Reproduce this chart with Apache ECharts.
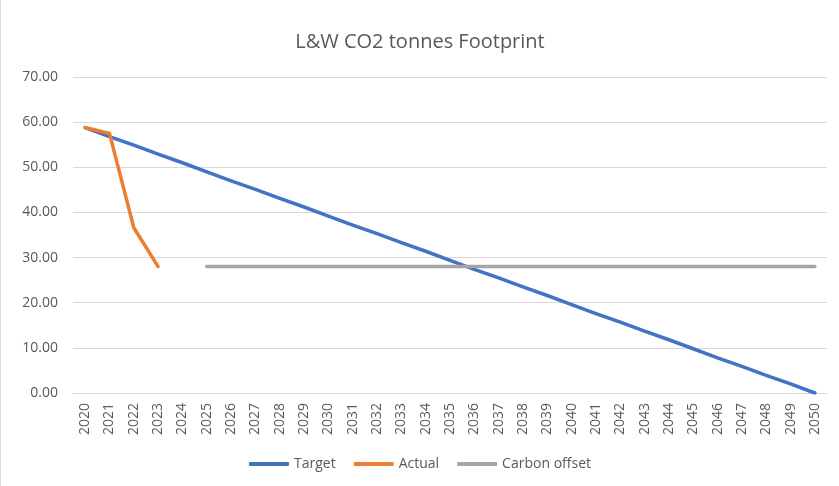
<!DOCTYPE html>
<html>
<head>
<meta charset="utf-8">
<script src="https://cdn.jsdelivr.net/npm/echarts@6/dist/echarts.min.js"></script>
<style>
  html, body { margin: 0; padding: 0; background: #fff; }
  #chart { width: 839px; height: 486px; box-sizing: border-box; border-left: 1px solid #d9d9d9; }
</style>
</head>
<body>
<div id="chart"></div>
<script>
// years on the category axis
const years = [];
for (let y = 2020; y <= 2050; y++) years.push(String(y));

// values (tonnes CO2)
const target = [58.8, 56.8, 54.9, 52.9, 51.0, 49.0, 47.0, 45.1, 43.1, 41.2,
  39.2, 37.2, 35.3, 33.3, 31.4, 29.4, 27.4, 25.5, 23.5, 21.6,
  19.6, 17.6, 15.7, 13.7, 11.8, 9.8, 7.8, 5.9, 3.9, 2.0, 0];
const actual = [58.8, 57.5, 36.6, 28.0];
const carbonOffset = [null, null, null, null, null,
  28, 28, 28, 28, 28, 28, 28, 28, 28, 28, 28, 28, 28, 28, 28,
  28, 28, 28, 28, 28, 28, 28, 28, 28, 28, 28];

const font = '"Open Sans", "Liberation Sans", sans-serif';
const grey = '#595959';

const chart = echarts.init(document.getElementById('chart'));

const lineSeries = (name, data, color) => ({
  name,
  type: 'line',
  data,
  symbol: 'none',
  connectNulls: false,
  lineStyle: { color, width: 3.5, cap: 'round', join: 'round' },
  itemStyle: { color },
});

chart.setOption({
  animation: false,
  title: {
    text: 'L&W CO2 tonnes Footprint',
    left: 'center',
    top: 27,
    textStyle: { fontFamily: font, fontSize: 20, fontWeight: 'normal', color: grey },
  },
  legend: {
    bottom: 10,
    left: 'center',
    itemWidth: 40,
    itemHeight: 4,
    itemGap: 18,
    icon: 'roundRect',
    textStyle: { fontFamily: font, fontSize: 14, color: grey },
    data: ['Target', 'Actual', 'Carbon offset'],
  },
  grid: { left: 72, right: 12, top: 77, bottom: 93, containLabel: false },
  xAxis: {
    type: 'category',
    data: years,
    boundaryGap: true,
    axisLine: { lineStyle: { color: '#d9d9d9', width: 1 } },
    axisTick: { show: false },
    axisLabel: { rotate: 90, interval: 0, color: grey, fontFamily: font, fontSize: 14, margin: 10 },
  },
  yAxis: {
    type: 'value',
    min: 0,
    max: 70,
    interval: 10,
    axisLine: { show: false },
    axisTick: { show: false },
    splitLine: { lineStyle: { color: '#d9d9d9', width: 1 } },
    axisLabel: {
      color: grey, fontFamily: font, fontSize: 14, margin: 15,
      formatter: (v) => v.toFixed(2),
    },
  },
  series: [
    lineSeries('Target', target, '#4472c4'),
    lineSeries('Actual', actual, '#ed7d31'),
    lineSeries('Carbon offset', carbonOffset, '#a5a5a5'),
  ],
});
</script>
</body>
</html>
